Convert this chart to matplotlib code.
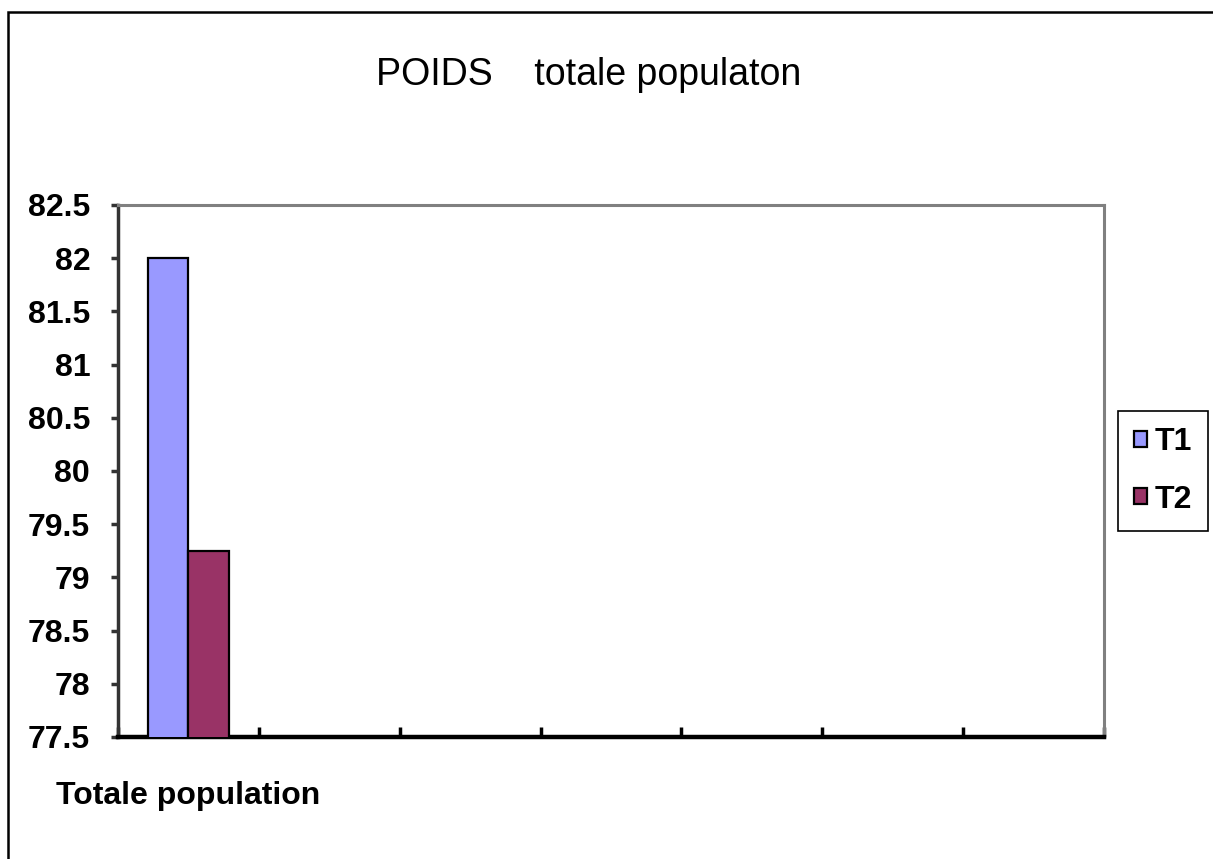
import matplotlib
matplotlib.use("Agg")
import matplotlib.pyplot as plt
from matplotlib import font_manager
from matplotlib.patches import Rectangle
import numpy as np

# Données
categories = ["Totale population", "", "", "", "", "", ""]
series = ["T1", "T2"]
t1_values = [82.0]
t2_values = [79.25]
yticks = [77.5, 78, 78.5, 79, 79.5, 80, 80.5, 81, 81.5, 82, 82.5]
colors = ["#9999FF", "#993366"]

# Police : Arial Narrow (Liberation Sans Narrow) si dispo
names = {f.name for f in font_manager.fontManager.ttflist}
if "Liberation Sans Narrow" in names:
    narrow = "Liberation Sans Narrow"
    lab_size = 27
else:
    narrow = "Liberation Sans"
    lab_size = 23

fig = plt.figure(figsize=(12.13, 8.59), dpi=100)
ax = fig.add_axes([118 / 1213, 1 - 737 / 859, (1104 - 118) / 1213, (737 - 205) / 859])

x = np.arange(len(categories))
w = 40 / 140
ax.bar(x[:len(t1_values)] - w / 2, t1_values, width=w, color=colors[0],
       edgecolor="black", linewidth=1.6, label=series[0], zorder=3)
ax.bar(x[:len(t2_values)] + w / 2, t2_values, width=w, color=colors[1],
       edgecolor="black", linewidth=1.6, label=series[1], zorder=3)

ax.set_ylim(yticks[0], yticks[-1])
ax.set_xlim(-0.5, len(categories) - 0.5)
ax.set_yticks(yticks)
ax.set_yticklabels([f"{v:g}" for v in yticks], fontfamily=narrow,
                   fontweight="bold", fontsize=lab_size)
ax.tick_params(axis="y", direction="out", length=5, width=2.5,
               color="#333333", pad=15)

ax.set_xticks(x[:1])
ax.set_xticklabels(categories[:1], fontfamily=narrow, fontweight="bold",
                   fontsize=lab_size)
ax.set_xticks(np.arange(len(categories) + 1) - 0.5, minor=True)
ax.tick_params(axis="x", which="major", length=0, pad=32)
ax.tick_params(axis="x", which="minor", direction="in", length=7, width=2.5,
               color="black")

ax.spines["left"].set_color("#333333")
ax.spines["left"].set_linewidth(2.5)
ax.spines["bottom"].set_color("black")
ax.spines["bottom"].set_linewidth(3.2)
for s in ["top", "right"]:
    ax.spines[s].set_color("#808080")
    ax.spines[s].set_linewidth(2.2)

fig.text(589 / 1213, 1 - 75 / 859, "POIDS    totale populaton",
         ha="center", va="center", fontfamily="Liberation Sans", fontsize=27)

leg = fig.legend(loc="center", bbox_to_anchor=(1163 / 1213, 1 - 471 / 859),
                 fancybox=False, edgecolor="black", framealpha=1,
                 prop={"family": narrow, "weight": "bold", "size": lab_size},
                 handlelength=0.4, handleheight=0.4, handletextpad=0.25,
                 labelspacing=0.85, borderpad=0.5, borderaxespad=0)
leg.get_frame().set_linewidth(1.2)

# cadre de la figure (gauche et haut)
fig.add_artist(Rectangle((8 / 1213, -0.1), 1.2, 1.1 - 12 / 859,
                         transform=fig.transFigure, fill=False,
                         edgecolor="black", linewidth=1.8))

fig.savefig("out.png", dpi=100)
